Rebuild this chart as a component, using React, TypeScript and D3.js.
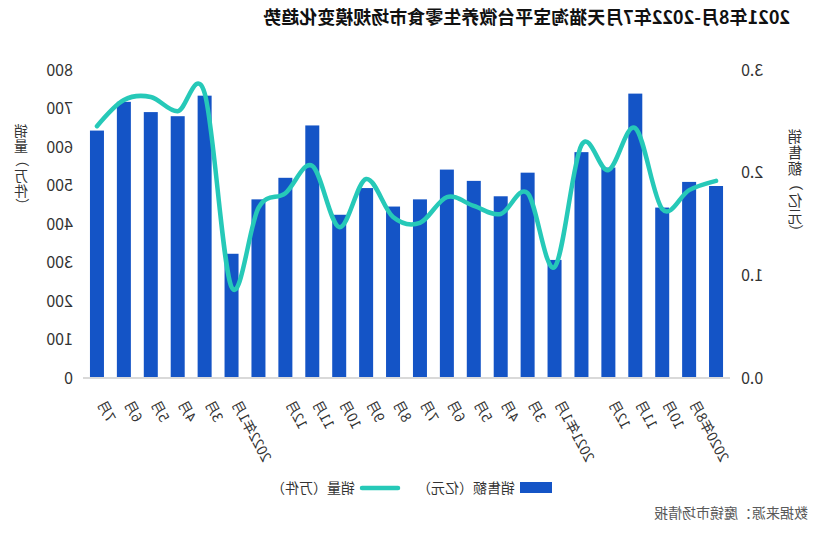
import React from 'react';
import * as d3 from 'd3';

const W = 828;
const H = 536;

const title = '2021年8月-2022年7月天猫淘宝平台微养生零食市场规模变化趋势';
const source = '数据来源：魔镜市场情报';
const categories = ['', '2020年8月', '10月', '11月', '12月', '', '2021年1月', '3月', '4月', '5月', '6月', '7月', '8月', '9月', '10月', '11月', '12月', '', '2022年1月', '3月', '4月', '5月', '6月', '7月'];
// 销售额（亿元）
const salesAmount = [1.87, 1.91, 1.66, 2.77, 2.05, 2.2, 1.15, 2.0, 1.77, 1.92, 2.03, 1.74, 1.67, 1.85, 1.59, 2.46, 1.95, 1.74, 1.21, 2.75, 2.55, 2.59, 2.69, 2.41];
// 销量（万件）
const salesVolume = [512, 488, 439, 649, 540, 605, 288, 480, 426, 447, 470, 403, 418, 517, 392, 551, 480, 442, 236, 740, 693, 730, 722, 654];
const leftTicks = [0, 1, 2, 3];
const rightTicks = [0, 100, 200, 300, 400, 500, 600, 700, 800];
const seriesNames = ['销售额（亿元）', '销量（万件）'];
const axisTitles = ['销售额（亿元）', '销量（万件）'];

const BAR = '#1454c6';
const LINE = '#26c9b8';
const FONT = '"Noto Sans CJK SC", "Noto Sans", sans-serif';

function VerticalTitle({ text, x, y0, step, size }: { text: string; x: number; y0: number; step: number; size: number }) {
  return (
    <g>
      {Array.from(text).map((ch, k) => {
        const cy = y0 + k * step;
        const bracket = ch === '（' || ch === '）';
        return (
          <text
            key={k}
            x={x}
            y={cy}
            textAnchor="middle"
            dominantBaseline="central"
            fontSize={size}
            fill="#333"
            transform={bracket ? `rotate(90 ${x} ${cy})` : undefined}
          >
            {ch}
          </text>
        );
      })}
    </g>
  );
}

export default function App() {
  const idx = d3.range(categories.length);
  const x = d3.scaleBand<number>().domain(idx).range([98.5, 744.5]).paddingInner(0.48).paddingOuter(0.24);
  const yL = d3.scaleLinear().domain([0, 3]).range([378, 70]);
  const yR = d3.scaleLinear().domain([0, 800]).range([378, 70]);
  const cx = (i: number) => (x(i) as number) + x.bandwidth() / 2;
  const line = d3
    .line<number>()
    .x((d, i) => cx(i))
    .y((d) => yR(d))
    .curve(d3.curveCardinal.tension(0));

  return (
    <svg width={W} height={H} style={{ position: 'absolute', left: 0, top: 0, display: 'block', background: '#fff' }} fontFamily={FONT}>
      <g transform={`translate(${W},0) scale(-1,1)`}>
        <text x={38} y={24} fontSize={18} fontWeight="bold" fill="#111">{title}</text>
        {/* bars */}
        {salesAmount.map((v, i) => (
          <rect key={i} x={x(i)} y={yL(v)} width={x.bandwidth()} height={yL(0) - yL(v)} fill={BAR} />
        ))}
        <line x1={98} x2={745} y1={378} y2={378} stroke="#d9d9d9" strokeWidth={2} />
        <path d={line(salesVolume) || ''} fill="none" stroke={LINE} strokeWidth={4.5} strokeLinecap="round" strokeLinejoin="round" />
        {/* left axis */}
        {leftTicks.map((t) => (
          <text key={t} x={87} y={yL(t)} dy="0.36em" textAnchor="end" fontSize={16} fill="#333">{d3.format('.1f')(t)}</text>
        ))}
        {/* right axis */}
        {rightTicks.map((t) => (
          <text key={t} x={755} y={yR(t)} dy="0.36em" textAnchor="start" fontSize={16} fill="#333">{t}</text>
        ))}
        <VerticalTitle text={axisTitles[0]} x={33} y0={135.5} step={16} size={14.5} />
        <VerticalTitle text={axisTitles[1]} x={807} y0={130} step={15} size={14} />
        {/* category labels */}
        {categories.map((c, i) => (
          <text key={i} transform={`translate(${cx(i)},404) rotate(-62)`} textAnchor="end" fontSize={14} fill="#333">{c}</text>
        ))}
        {/* legend */}
        <rect x={276} y={482} width={32} height={11} fill={BAR} />
        <text x={313} y={488} dy="0.36em" fontSize={14} fill="#333">{seriesNames[0]}</text>
        <line x1={430} x2={466} y1={488} y2={488} stroke={LINE} strokeWidth={4.5} strokeLinecap="round" />
        <text x={473} y={488} dy="0.36em" fontSize={14} fill="#333">{seriesNames[1]}</text>
        <text x={20} y={513} dy="0.36em" fontSize={14} fill="#595959">{source}</text>
      </g>
    </svg>
  );
}
